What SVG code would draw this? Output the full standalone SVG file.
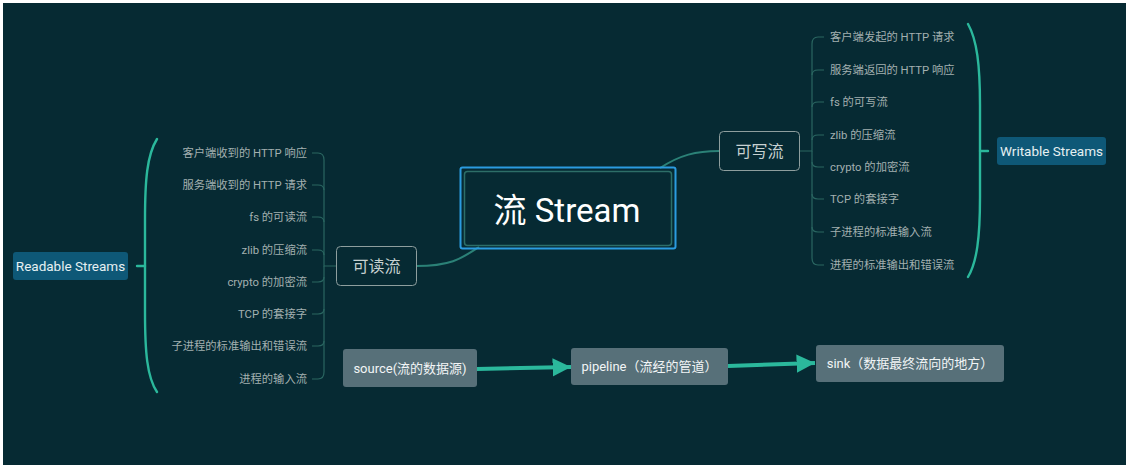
<svg xmlns="http://www.w3.org/2000/svg" width="1131" height="467" viewBox="0 0 1131 467">
<defs>
<style>
text{font-family:Roboto,"Noto Sans CJK SC",sans-serif;}
.leaf{font-size:11.3px;fill:#a3b0b0;}
.lt{text-anchor:end;}
.br{fill:none;stroke:#2a6661;stroke-width:1.2;}
.main{fill:none;stroke:#2b8177;stroke-width:2;}
.brace{fill:none;stroke:#2bb89c;stroke-width:2.4;stroke-linecap:round;}
.sub{fill:#062a33;stroke:#8e9e9e;stroke-width:1;}
.subt{font-size:16px;fill:#c7d1d1;text-anchor:middle;}
.tag{fill:#0e5877;}
.tagt{font-size:13.5px;fill:#e6f0f2;text-anchor:middle;}
.flow{fill:#577079;}
.flowt{font-size:13px;fill:#f2f5f6;text-anchor:middle;}
.arr{fill:none;stroke:#2bb89c;stroke-width:4;}
</style>
<marker id="ah" viewBox="0 0 10 10" refX="10" refY="5" markerWidth="4.6" markerHeight="4.6" markerUnits="strokeWidth" orient="auto">
<path d="M0,0 L10,5 L0,10 Z" fill="#2bb89c"/>
</marker>
</defs>
<rect x="0" y="0" width="1131" height="467" fill="#ffffff"/>
<rect x="3" y="3" width="1123" height="462" fill="#062a33"/>

<g id="connectors">
<path class="main" d="M416,266 C452,266 462,258 479,247"/>
<path class="main" d="M660,168 C680,155 696,151 719,151"/>
<g id="left-branches">
<path class="br" d="M336,266 H324 V160 Q324,153 318,153 H312"/>
<path class="br" d="M324,190 Q324,185 318,185 H312"/>
<path class="br" d="M324,222 Q324,217 318,217 H312"/>
<path class="br" d="M324,255 Q324,250 318,250 H312"/>
<path class="br" d="M324,277 Q324,282 318,282 H312"/>
<path class="br" d="M324,309 Q324,314 318,314 H312"/>
<path class="br" d="M324,341 Q324,346 318,346 H312"/>
<path class="br" d="M324,266 V372 Q324,379 318,379 H312"/>
</g>
<g id="right-branches">
<path class="br" d="M799,151 H812 V44 Q812,37 818,37 H824"/>
<path class="br" d="M812,75 Q812,70 818,70 H824"/>
<path class="br" d="M812,107 Q812,102 818,102 H824"/>
<path class="br" d="M812,140 Q812,135 818,135 H824"/>
<path class="br" d="M812,162 Q812,167 818,167 H824"/>
<path class="br" d="M812,194 Q812,199 818,199 H824"/>
<path class="br" d="M812,227 Q812,232 818,232 H824"/>
<path class="br" d="M812,151 V258 Q812,265 818,265 H824"/>
</g>
<path class="brace" d="M157,139 C147,155 145,180 145,220 L145,312 C145,352 147,377 157,392"/>
<path class="brace" d="M137,266 H145"/>
<path class="brace" d="M968,24 C977,40 980,65 980,105 L980,197 C980,237 977,262 968,277"/>
<path class="brace" d="M980,151 H988"/>
<path class="arr" marker-end="url(#ah)" d="M477,369 L571,367"/>
<path class="arr" marker-end="url(#ah)" d="M728,366 L815,363"/>
</g>

<g id="center">
<rect x="460.5" y="167.5" width="215" height="81" rx="2" fill="none" stroke="#2b9be0" stroke-width="2"/>
<rect x="464.5" y="171.5" width="207" height="74" rx="3" fill="#062a33" stroke="#2d6e68" stroke-width="1.5"/>
<text x="567" y="222" font-size="33" fill="#ffffff" text-anchor="middle">流 Stream</text>
</g>

<g id="readable">
<rect class="sub" x="336.5" y="246.5" width="80" height="39" rx="4"/>
<text class="subt" x="376.5" y="272">可读流</text>
</g>
<g id="writable">
<rect class="sub" x="719.5" y="131.5" width="80" height="39" rx="4"/>
<text class="subt" x="759.5" y="157">可写流</text>
</g>

<g id="readable-streams">
<rect class="tag" x="13" y="252" width="115" height="28" rx="3"/>
<text class="tagt" x="70.5" y="270.5">Readable Streams</text>
</g>
<g id="writable-streams">
<rect class="tag" x="997" y="137" width="109" height="28" rx="3"/>
<text class="tagt" x="1051.5" y="155.5">Writable Streams</text>
</g>

<g id="readable-items">
<text class="leaf lt" x="307" y="157">客户端收到的 HTTP 响应</text>
<text class="leaf lt" x="307" y="189">服务端收到的 HTTP 请求</text>
<text class="leaf lt" x="307" y="221">fs 的可读流</text>
<text class="leaf lt" x="307" y="254">zlib 的压缩流</text>
<text class="leaf lt" x="307" y="286">crypto 的加密流</text>
<text class="leaf lt" x="307" y="318">TCP 的套接字</text>
<text class="leaf lt" x="307" y="350">子进程的标准输出和错误流</text>
<text class="leaf lt" x="307" y="383">进程的输入流</text>
</g>
<g id="writable-items">
<text class="leaf" x="830" y="41">客户端发起的 HTTP 请求</text>
<text class="leaf" x="830" y="74">服务端返回的 HTTP 响应</text>
<text class="leaf" x="830" y="106">fs 的可写流</text>
<text class="leaf" x="830" y="139">zlib 的压缩流</text>
<text class="leaf" x="830" y="171">crypto 的加密流</text>
<text class="leaf" x="830" y="203">TCP 的套接字</text>
<text class="leaf" x="830" y="236">子进程的标准输入流</text>
<text class="leaf" x="830" y="269">进程的标准输出和错误流</text>
</g>

<g id="source">
<rect class="flow" x="343" y="349" width="134" height="38" rx="3"/>
<text class="flowt" x="410" y="372.5">source(流的数据源)</text>
</g>
<g id="pipeline">
<rect class="flow" x="571" y="348" width="157" height="37" rx="3"/>
<text class="flowt" x="649.5" y="371">pipeline（流经的管道）</text>
</g>
<g id="sink">
<rect class="flow" x="816" y="345" width="188" height="37" rx="3"/>
<text class="flowt" x="910" y="368">sink（数据最终流向的地方）</text>
</g>
</svg>
